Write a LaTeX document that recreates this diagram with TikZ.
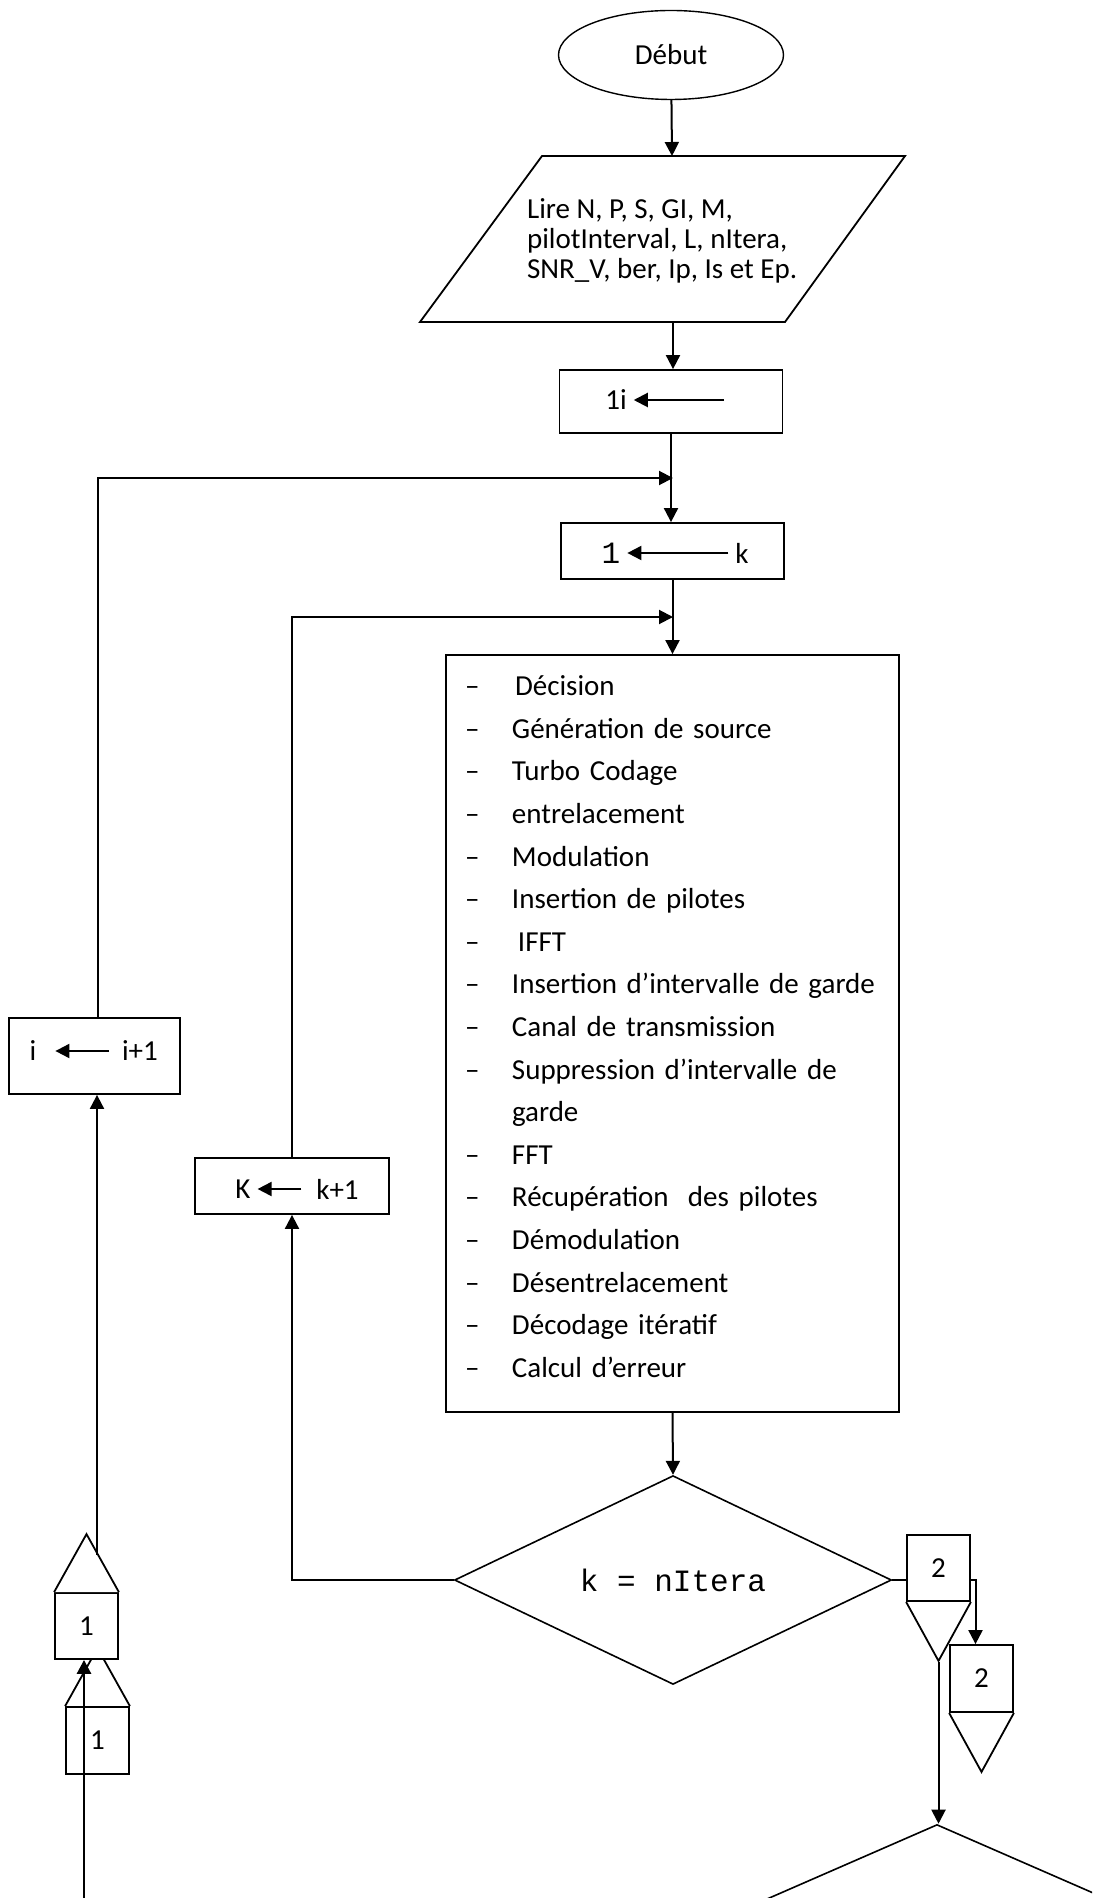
\documentclass[tikz,border=0pt]{standalone}
\usepackage{fontspec}
\setmainfont{Carlito}
\setmonofont{Liberation Mono}
\usetikzlibrary{shapes.geometric,arrows.meta}

\newcommand{\etape}[1]{\makebox[23.5pt][l]{–}#1}

\begin{document}
\begin{tikzpicture}[x=0.5pt,y=-0.5pt,
	every node/.style={font=\fontsize{14.5}{17}\selectfont},
	boite/.style={draw,line width=0.9pt,inner sep=0pt},
	fleche/.style={line width=1pt,-{Triangle[length=7pt,width=7pt]}},
	renvoi/.style={draw,fill=white,line width=0.9pt,minimum width=31.5pt,minimum height=33pt,inner sep=0pt},
	code/.style={font=\ttfamily\fontsize{15.5}{17}\selectfont}]
		\useasboundingbox (0,0) rectangle (1092,1898);
		\clip (0,0) rectangle (1092,1898);
		% Début et lecture des paramètres
		\node[ellipse,draw,line width=0.7pt,minimum width=112.5pt,minimum height=44.5pt] (debut) at (671,55) {Début};
		\draw[line width=0.9pt] (420,322) -- (542,156) -- (905,156) -- (785,322) -- cycle;
		\node[align=left,anchor=west,font=\fontsize{14.5}{15}\selectfont] (lire) at (520,241)
			{Lire N, P, S, GI, M,\\ pilotInterval, L, nItera,\\ SNR\_V, ber, Ip, Is et Ep.};
		\coordinate (lireH) at (672,156);
		\coordinate (lireB) at (673,322);
		% Initialisations
		\node[boite,minimum width=111.5pt,minimum height=31.5pt] (initI) at (671,401.5) {};
		\node (initIg) at (616,400) {1i};
		\coordinate (initId) at (724,400);
		\draw[fleche] (initId) -- (initIg);
		\node[boite,minimum width=111.5pt,minimum height=28pt] (initK) at (672.5,551) {};
		\node[code] (initKg) at (611,553) {1};
		\node (initKd) at (742,553) {k};
		\draw[fleche] (initKd) -- (initKg);
		% Traitement
		\node[boite,minimum width=226.5pt,minimum height=378.5pt,inner xsep=9.5pt,text width=207.5pt,
			align=left,font=\fontsize{14.5}{21.3}\selectfont] (corps) at (672.5,1033.5)
			{\etape{\hspace{1.5pt}Décision}\\
			\etape{Génération de source}\\
			\etape{Turbo Codage}\\
			\etape{entrelacement}\\
			\etape{Modulation}\\
			\etape{Insertion de pilotes}\\
			\etape{\hspace{3pt}IFFT}\\
			\etape{Insertion d’intervalle de garde}\\
			\etape{Canal de transmission}\\
			\etape{Suppression d’intervalle de}\\
			\hspace*{23.5pt}garde\\
			\etape{FFT}\\
			\etape{Récupération~ des pilotes}\\
			\etape{Démodulation}\\
			\etape{Désentrelacement}\\
			\etape{Décodage itératif}\\
			\etape{Calcul d’erreur}\rule[-7pt]{0pt}{7pt}};
		% Test
		\node[diamond,draw,line width=0.8pt,minimum width=218.5pt,minimum height=95.5pt,inner sep=0pt,code] (test) at (673,1580) {k = nItera};
		\node[diamond,draw,line width=0.8pt,minimum width=218.5pt,minimum height=95.5pt,inner sep=0pt] (test2) at (937,1920) {};
		% Incrémentations
		\node[boite,minimum width=97pt,minimum height=28pt] (incK) at (292,1186) {};
		\node (incKg) at (243,1189) {K};
		\node (incKd) at (337.5,1189) {k+1};
		\draw[fleche,shorten <=4pt] (incKd) -- (incKg);
		\node[boite,minimum width=85.5pt,minimum height=38pt] (incI) at (94.5,1056) {};
		\node (incIg) at (33,1051) {i};
		\node (incId) at (140,1051) {i+1};
		\draw[fleche,shorten >=6pt,shorten <=3pt] (incId) -- (incIg);
		% Liaisons principales
		\coordinate (joinI) at (673,478);
		\coordinate (joinK) at (673,617);
		\draw[fleche] (debut) -- (lireH);
		\draw[fleche] (lireB) -- (lireB |- initI.north);
		\draw[fleche] (initI.south) -- (initI.south |- initK.north);
		\draw[fleche] (initK.south) -- (initK.south |- corps.north);
		\draw[fleche] (corps.south) -- (test.north);
		\draw[fleche] ([xshift=1.75pt]incI.north) |- (joinI);
		\draw[fleche] (incK.north) |- (joinK);
		\draw[fleche] (test.west) -| (incK.south);
		% Renvois 2
		\node[renvoi,minimum height=33.5pt] (renvoiD) at (981.5,1678.5) {2};
		\draw[line width=0.9pt] (renvoiD.south west) -- ([yshift=-29.5pt]renvoiD.south) -- (renvoiD.south east);
		\draw[fleche] (test.east) -| ([xshift=-3pt]renvoiD.north);
		\node[renvoi] (renvoiC) at (938.5,1568) {2};
		\draw[line width=0.9pt] (renvoiC.south west) -- ([yshift=-29.5pt]renvoiC.south) -- (renvoiC.south east);
		\coordinate (renvoiCsortie) at (938.5,1662);
		\draw[fleche] (renvoiCsortie) -- (renvoiCsortie |- test2.north);
		% Renvois 1
		\node[renvoi,minimum height=33.5pt] (renvoiB) at (97.5,1740.5) {1};
		\draw[line width=0.9pt] (renvoiB.north west) -- ([yshift=29pt]renvoiB.north) -- (renvoiB.north east);
		\node[renvoi] (renvoiA) at (86.5,1626) {1};
		\draw[line width=0.9pt,fill=white] (renvoiA.north west) -- ([yshift=29pt]renvoiA.north) -- (renvoiA.north east);
		\coordinate (renvoiAsortie) at (97,1555);
		\draw[fleche] (renvoiAsortie) -- (renvoiAsortie |- incI.south);
		\coordinate (entreeBas) at (84,1910);
		\draw[fleche,line width=1.4pt] (entreeBas) -- (entreeBas |- renvoiA.south);
\end{tikzpicture}
\end{document}
